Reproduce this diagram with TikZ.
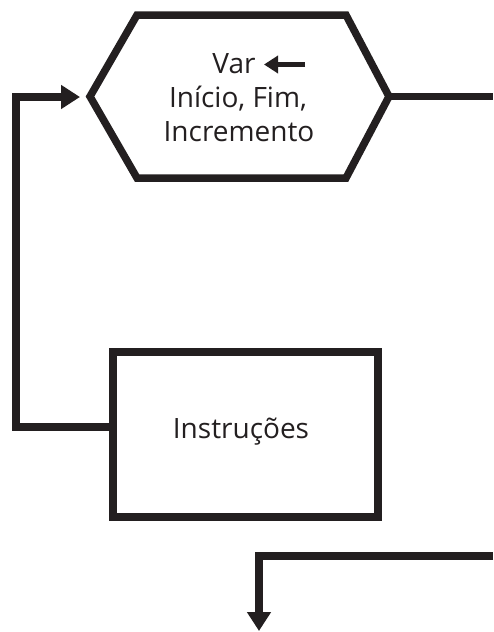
\documentclass[tikz,border=0pt]{standalone}
\usepackage{fontspec}
\setmainfont{Open Sans}
\usetikzlibrary{arrows.meta}
\definecolor{ink}{HTML}{231F20}
\tikzset{
  shape line/.style={draw=ink, line width=7.5pt, line join=miter},
  conn/.style={draw=ink, line width=7.5pt, line join=miter},
  tip/.style={-{Triangle[length=19pt,width=23pt]}},
  txt/.style={text=ink, font=\fontsize{28}{34}\selectfont, inner sep=0pt, anchor=base},
}
\begin{document}
\begin{tikzpicture}[x=1pt,y=-1pt]
\useasboundingbox (0,0) rectangle (493,632);
% hexagon
\draw[shape line] (137,15) -- (346,15) -- (389,96.5) -- (346,178) -- (137,178) -- (90,96.5) -- cycle;
\coordinate (hexW) at (80,97);
\coordinate (hexE) at (389,96.5);
\coordinate (rightA) at (493,96.5);
\node[txt] (var) at (234,73) {Var};
\node[txt] (l2) at (238,107) {Início, Fim,};
\node[txt] (l3) at (239,141) {Incremento};
\draw[draw=ink, line width=4.8pt, -{Triangle[length=14pt,width=17pt]}] (305,64.5) -- (264,64.5);
% rectangle
\node[shape line, minimum width=265pt, minimum height=165pt, inner sep=0pt, anchor=north west] (instr) at (109,348) {};
\node[txt] (itext) at (241,438) {Instruções};
% connectors
\draw[conn] (hexE) -- (rightA);
\coordinate (c1) at (16,427);
\coordinate (c2) at (16,97);
\draw[conn, tip] (instr.west |- c1) -- (c1) -- (c2) -- (hexW);
\coordinate (inB) at (493,556);
\coordinate (b1) at (259,556);
\coordinate (outB) at (259,631);
\draw[conn, tip] (inB) -- (b1) -- (outB);
\end{tikzpicture}
\end{document}
